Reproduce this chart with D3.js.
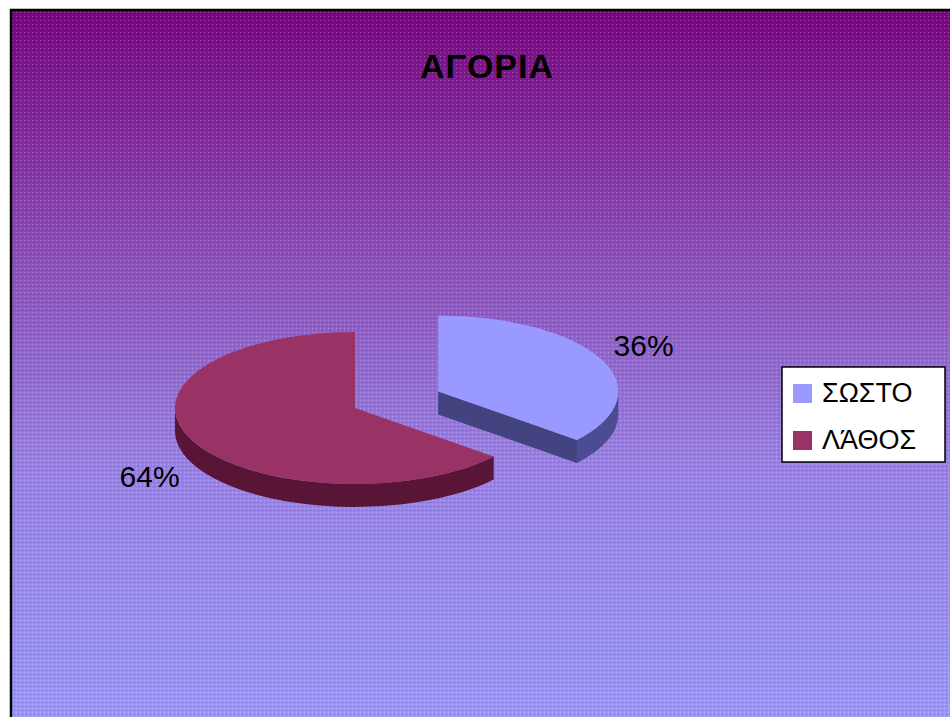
<!DOCTYPE html>
<html>
<head>
<meta charset="utf-8">
<script src="https://cdn.jsdelivr.net/npm/d3@7"></script>
<style>
  html, body { margin: 0; padding: 0; background: #ffffff; }
  svg { display: block; }
</style>
</head>
<body>
<svg id="chart" width="950" height="717"></svg>
<script>
// ---- data ----
const title = "ΑΓΟΡΙΑ";
const categories = ["ΣΩΣΤΟ", "ΛΆΘΟΣ"];
const shares = [36, 64];
const percentLabels = ["36%", "64%"];
const exploded = [1, 0];

// ---- styling ----
const topColors = ["#9999FF", "#993366"];
const sideColors = ["#4c4c92", "#581535"];
const font = "'Liberation Sans', Arial, sans-serif";

const W = 950, H = 717;
const svg = d3.select("#chart");
const defs = svg.append("defs");

// background gradient: purple at the top fading to lavender blue
const grad = defs.append("linearGradient")
  .attr("id", "bg").attr("x1", 0).attr("y1", 0).attr("x2", 0).attr("y2", 1);
[[0, "#800080"], [0.3, "#8e45b4"], [0.62, "#9a80e8"], [1, "#9999FF"]]
  .forEach(([o, c]) => grad.append("stop").attr("offset", o).attr("stop-color", c));

// fine dot texture of the fill
const dots = defs.append("pattern").attr("id", "dots")
  .attr("width", 4).attr("height", 4).attr("patternUnits", "userSpaceOnUse");
dots.append("rect").attr("x", 0).attr("y", 0).attr("width", 1).attr("height", 1)
  .attr("fill", "#ffffff").attr("opacity", 0.28);
dots.append("rect").attr("x", 2).attr("y", 2).attr("width", 1).attr("height", 1)
  .attr("fill", "#30207a").attr("opacity", 0.32);

// checker texture on the pie sides
const checker = defs.append("pattern").attr("id", "checker")
  .attr("width", 2).attr("height", 2).attr("patternUnits", "userSpaceOnUse");
checker.append("rect").attr("x", 0).attr("y", 0).attr("width", 1).attr("height", 1)
  .attr("fill", "#000000").attr("opacity", 0.25);
checker.append("rect").attr("x", 1).attr("y", 1).attr("width", 1).attr("height", 1)
  .attr("fill", "#000000").attr("opacity", 0.25);

// chart area with frame
const frame = { x: 11, y: 10 };
svg.append("rect").attr("x", frame.x).attr("y", frame.y)
  .attr("width", W + 10).attr("height", H + 10).attr("fill", "url(#bg)");
svg.append("rect").attr("x", frame.x).attr("y", frame.y)
  .attr("width", W + 10).attr("height", H + 10).attr("fill", "url(#dots)");
svg.append("rect").attr("x", frame.x).attr("y", frame.y)
  .attr("width", W + 10).attr("height", H + 10)
  .attr("fill", "none").attr("stroke", "#000").attr("stroke-width", 2.5);

// title
svg.append("text")
  .attr("x", 487).attr("y", 78)
  .attr("text-anchor", "middle")
  .attr("font-family", font).attr("font-weight", "bold")
  .attr("font-size", 34).attr("letter-spacing", 1)
  .attr("fill", "#000").text(title);

// ---- 3D pie ----
const cx = 355, cy = 408, rx = 180, ry = 76, depth = 23, explodeDist = 92;
const k = ry / rx;
const HALF = Math.PI / 2;

const slices = d3.pie().sort(null).value(d => d)(shares);
const arcGen = d3.arc().innerRadius(0).outerRadius(rx);

const pieG = svg.append("g");

function rimPoint(a) {
  return [rx * Math.sin(a), -ry * Math.cos(a)];
}

slices.forEach((s, i) => {
  const mid = (s.startAngle + s.endAngle) / 2;
  const ox = exploded[i] * explodeDist * Math.sin(mid);
  const oy = -exploded[i] * explodeDist * Math.cos(mid) * k;
  const g = pieG.append("g").attr("transform", `translate(${cx + ox},${cy + oy})`);

  // outer rim wall, only the front half faces the viewer
  const r0 = Math.max(s.startAngle, HALF);
  const r1 = Math.min(s.endAngle, 3 * HALF);
  if (r1 > r0) {
    const D = depth / k;
    const p = d3.path();
    p.arc(0, 0, rx, r0 - HALF, r1 - HALF);
    p.lineTo(rx * Math.cos(r1 - HALF), rx * Math.sin(r1 - HALF) + D);
    p.arc(0, D, rx, r1 - HALF, r0 - HALF, true);
    p.closePath();
    const wall = g.append("g").attr("transform", `scale(1,${k})`);
    wall.append("path").attr("d", p.toString()).attr("fill", sideColors[i]);
  }

  // cut faces along the slice edges
  [[s.startAngle, s.startAngle - HALF], [s.endAngle, s.endAngle + HALF]].forEach(([a, n]) => {
    if (Math.cos(n) < -1e-6) {
      const [px, py] = rimPoint(a);
      const pts = [[0, 0], [px, py], [px, py + depth], [0, depth]];
      const d = d3.line()(pts) + "Z";
      g.append("path").attr("d", d).attr("fill", sideColors[i]);
      g.append("path").attr("d", d).attr("fill", "url(#checker)");
    }
  });

  // top face
  g.append("path")
    .attr("transform", `scale(1,${k})`)
    .attr("d", arcGen(s))
    .attr("fill", topColors[i]);

  // percentage label just outside the rim
  const [lx, ly] = rimPoint(mid);
  const lower = Math.cos(mid) < 0 ? depth : 0;
  g.append("text")
    .attr("x", lx + Math.sin(mid) * 47)
    .attr("y", ly - Math.cos(mid) * 32 + lower)
    .attr("text-anchor", "middle")
    .attr("dominant-baseline", "central")
    .attr("font-family", font).attr("font-size", 30)
    .attr("fill", "#000").text(percentLabels[i]);
});

// ---- legend ----
const legend = svg.append("g").attr("transform", "translate(782,367)");
legend.append("rect").attr("width", 163).attr("height", 95)
  .attr("fill", "#fff").attr("stroke", "#000").attr("stroke-width", 1.5);
const rowY = d3.scalePoint().domain(categories).range([26, 73]);
const item = legend.selectAll("g.item").data(categories).join("g")
  .attr("class", "item")
  .attr("transform", d => `translate(0,${rowY(d)})`);
item.append("rect").attr("x", 11).attr("y", -9).attr("width", 19).attr("height", 19)
  .attr("fill", (d, i) => topColors[i]);
item.append("text").attr("x", 40).attr("y", 9)
  .attr("font-family", font).attr("font-size", 27)
  .attr("fill", "#000").text(d => d);
</script>
</body>
</html>
